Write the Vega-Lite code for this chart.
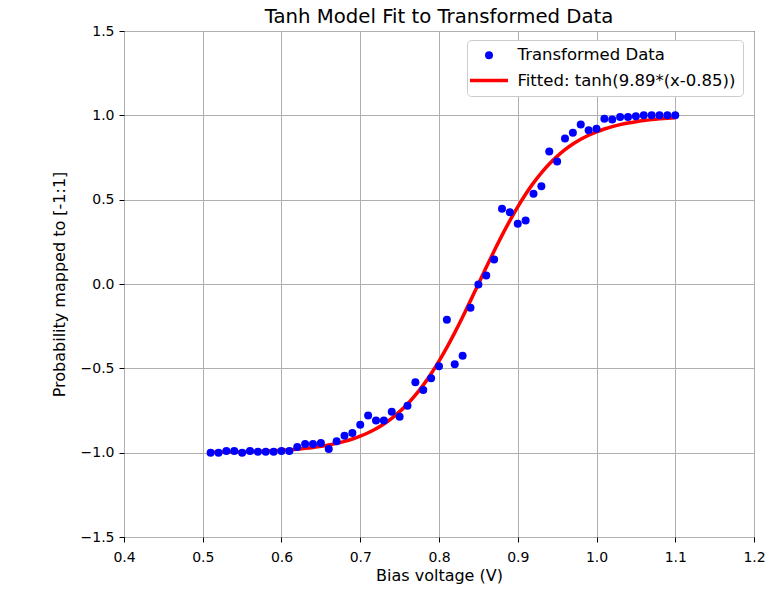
{
  "$schema": "https://vega.github.io/schema/vega-lite/v6.json",
  "width": 630,
  "height": 506,
  "autosize": {"type": "none"},
  "padding": {"left": 124, "top": 31, "right": 18, "bottom": 55},
  "background": "white",
  "title": {"text": "Tanh Model Fit to Transformed Data", "fontSize": 19.7, "font": "DejaVu Sans", "fontWeight": "normal", "color": "black", "offset": -3},
  "config": {
    "view": {"stroke": "black", "strokeWidth": 1},
    "axis": {
      "grid": true, "gridColor": "#b0b0b0", "gridWidth": 1, "labelFlush": false, "labelOverlap": false,
      "domain": false, "tickColor": "black", "tickSize": 5, "labelPadding": 5,
      "labelFont": "DejaVu Sans", "labelFontSize": 14, "labelColor": "black",
      "titleFont": "DejaVu Sans", "titleFontSize": 16, "titleFontWeight": "normal", "titleColor": "black"
    },
    "legend": {
      "title": null, "orient": "none", "legendX": 343, "legendY": 9,
      "labelFont": "DejaVu Sans", "labelFontSize": 16.5, "labelColor": "black", "labelLimit": 0,
      "fillColor": "white", "strokeColor": "#cccccc", "cornerRadius": 4, "padding": 7,
      "rowPadding": 2, "labelOffset": 17, "symbolOffset": 3.5, "symbolStrokeWidth": 3.5, "symbolOpacity": 1
    }
  },
  "layer": [
    {
      "data": {"values": [
        {"x":0.51,"y":-0.9976},{"x":0.52,"y":-0.9971},{"x":0.53,"y":-0.9964},{"x":0.54,"y":-0.9957},{"x":0.55,"y":-0.9947},{"x":0.56,"y":-0.9936},{"x":0.57,"y":-0.9922},{"x":0.58,"y":-0.9905},{"x":0.59,"y":-0.9884},{"x":0.60,"y":-0.9859},
        {"x":0.61,"y":-0.9828},{"x":0.62,"y":-0.9791},{"x":0.63,"y":-0.9746},{"x":0.64,"y":-0.9691},{"x":0.65,"y":-0.9624},{"x":0.66,"y":-0.9544},{"x":0.67,"y":-0.9447},{"x":0.68,"y":-0.9330},{"x":0.69,"y":-0.9190},{"x":0.70,"y":-0.9021},
        {"x":0.71,"y":-0.8820},{"x":0.72,"y":-0.8580},{"x":0.73,"y":-0.8296},{"x":0.74,"y":-0.7961},{"x":0.75,"y":-0.7569},{"x":0.76,"y":-0.7114},{"x":0.77,"y":-0.6591},{"x":0.78,"y":-0.5994},{"x":0.79,"y":-0.5324},{"x":0.80,"y":-0.4578},
        {"x":0.81,"y":-0.3762},{"x":0.82,"y":-0.2883},{"x":0.83,"y":-0.1953},{"x":0.84,"y":-0.0986},{"x":0.85,"y":0.0},{"x":0.86,"y":0.0986},{"x":0.87,"y":0.1953},{"x":0.88,"y":0.2883},{"x":0.89,"y":0.3762},{"x":0.90,"y":0.4578},
        {"x":0.91,"y":0.5324},{"x":0.92,"y":0.5994},{"x":0.93,"y":0.6591},{"x":0.94,"y":0.7114},{"x":0.95,"y":0.7569},{"x":0.96,"y":0.7961},{"x":0.97,"y":0.8296},{"x":0.98,"y":0.8580},{"x":0.99,"y":0.8820},{"x":1.00,"y":0.9021},
        {"x":1.01,"y":0.9190},{"x":1.02,"y":0.9330},{"x":1.03,"y":0.9447},{"x":1.04,"y":0.9544},{"x":1.05,"y":0.9624},{"x":1.06,"y":0.9691},{"x":1.07,"y":0.9746},{"x":1.08,"y":0.9791},{"x":1.09,"y":0.9828},{"x":1.10,"y":0.9859}
      ]},
      "mark": {"type": "line", "color": "#ff0000", "strokeWidth": 3.5, "interpolate": "monotone"},
      "encoding": {
        "x": {"field": "x", "type": "quantitative", "scale": {"domain": [0.4, 1.2], "nice": false, "zero": false}, "axis": {"values": [0.4,0.5,0.6,0.7,0.8,0.9,1.0,1.1,1.2], "format": ".1f", "title": "Bias voltage (V)", "labelPadding": 8, "titlePadding": 3}},
        "y": {"field": "y", "type": "quantitative", "scale": {"domain": [-1.5, 1.5], "nice": false, "zero": false}, "axis": {"values": [-1.5,-1.0,-0.5,0.0,0.5,1.0,1.5], "format": ".1f", "title": "Probability mapped to [-1:1]", "titlePadding": 13}}
      }
    },
    {
      "data": {"values": [
        {"x":0.51,"y":-1.0,"series":"Transformed Data"},{"x":0.52,"y":-1.0,"series":"Transformed Data"},{"x":0.53,"y":-0.99,"series":"Transformed Data"},{"x":0.54,"y":-0.99,"series":"Transformed Data"},{"x":0.55,"y":-1.0,"series":"Transformed Data"},{"x":0.56,"y":-0.99,"series":"Transformed Data"},{"x":0.57,"y":-0.995,"series":"Transformed Data"},{"x":0.58,"y":-0.995,"series":"Transformed Data"},{"x":0.59,"y":-0.995,"series":"Transformed Data"},{"x":0.60,"y":-0.99,"series":"Transformed Data"},
        {"x":0.61,"y":-0.99,"series":"Transformed Data"},{"x":0.62,"y":-0.967,"series":"Transformed Data"},{"x":0.63,"y":-0.948,"series":"Transformed Data"},{"x":0.64,"y":-0.948,"series":"Transformed Data"},{"x":0.65,"y":-0.942,"series":"Transformed Data"},{"x":0.66,"y":-0.978,"series":"Transformed Data"},{"x":0.67,"y":-0.933,"series":"Transformed Data"},{"x":0.68,"y":-0.899,"series":"Transformed Data"},{"x":0.69,"y":-0.883,"series":"Transformed Data"},{"x":0.70,"y":-0.834,"series":"Transformed Data"},
        {"x":0.71,"y":-0.78,"series":"Transformed Data"},{"x":0.72,"y":-0.81,"series":"Transformed Data"},{"x":0.73,"y":-0.81,"series":"Transformed Data"},{"x":0.74,"y":-0.757,"series":"Transformed Data"},{"x":0.75,"y":-0.787,"series":"Transformed Data"},{"x":0.76,"y":-0.722,"series":"Transformed Data"},{"x":0.77,"y":-0.583,"series":"Transformed Data"},{"x":0.78,"y":-0.628,"series":"Transformed Data"},{"x":0.79,"y":-0.559,"series":"Transformed Data"},{"x":0.80,"y":-0.488,"series":"Transformed Data"},
        {"x":0.81,"y":-0.212,"series":"Transformed Data"},{"x":0.82,"y":-0.476,"series":"Transformed Data"},{"x":0.83,"y":-0.426,"series":"Transformed Data"},{"x":0.84,"y":-0.141,"series":"Transformed Data"},{"x":0.85,"y":-0.003,"series":"Transformed Data"},{"x":0.86,"y":0.05,"series":"Transformed Data"},{"x":0.87,"y":0.145,"series":"Transformed Data"},{"x":0.88,"y":0.446,"series":"Transformed Data"},{"x":0.89,"y":0.426,"series":"Transformed Data"},{"x":0.90,"y":0.357,"series":"Transformed Data"},
        {"x":0.91,"y":0.377,"series":"Transformed Data"},{"x":0.92,"y":0.535,"series":"Transformed Data"},{"x":0.93,"y":0.58,"series":"Transformed Data"},{"x":0.94,"y":0.786,"series":"Transformed Data"},{"x":0.95,"y":0.727,"series":"Transformed Data"},{"x":0.96,"y":0.862,"series":"Transformed Data"},{"x":0.97,"y":0.897,"series":"Transformed Data"},{"x":0.98,"y":0.945,"series":"Transformed Data"},{"x":0.99,"y":0.911,"series":"Transformed Data"},{"x":1.00,"y":0.921,"series":"Transformed Data"},
        {"x":1.01,"y":0.98,"series":"Transformed Data"},{"x":1.02,"y":0.975,"series":"Transformed Data"},{"x":1.03,"y":0.99,"series":"Transformed Data"},{"x":1.04,"y":0.99,"series":"Transformed Data"},{"x":1.05,"y":0.995,"series":"Transformed Data"},{"x":1.06,"y":1.0,"series":"Transformed Data"},{"x":1.07,"y":1.0,"series":"Transformed Data"},{"x":1.08,"y":1.0,"series":"Transformed Data"},{"x":1.09,"y":1.0,"series":"Transformed Data"},{"x":1.10,"y":1.0,"series":"Transformed Data"}
      ]},
      "mark": {"type": "point", "filled": true, "opacity": 1},
      "encoding": {
        "x": {"field": "x", "type": "quantitative"},
        "y": {"field": "y", "type": "quantitative"},
        "fill": {"field": "series", "type": "nominal",
          "scale": {"domain": ["Transformed Data", "Fitted: tanh(9.89*(x-0.85))"], "range": ["#0000ff", "transparent"]}},
        "stroke": {"field": "series", "type": "nominal",
          "scale": {"domain": ["Transformed Data", "Fitted: tanh(9.89*(x-0.85))"], "range": ["transparent", "#ff0000"]}},
        "shape": {"field": "series", "type": "nominal",
          "scale": {"domain": ["Transformed Data", "Fitted: tanh(9.89*(x-0.85))"], "range": ["circle", "M-2,0H2"]}},
        "size": {"field": "series", "type": "ordinal",
          "scale": {"domain": ["Transformed Data", "Fitted: tanh(9.89*(x-0.85))"], "range": [64, 361]}}
      }
    }
  ]
}
